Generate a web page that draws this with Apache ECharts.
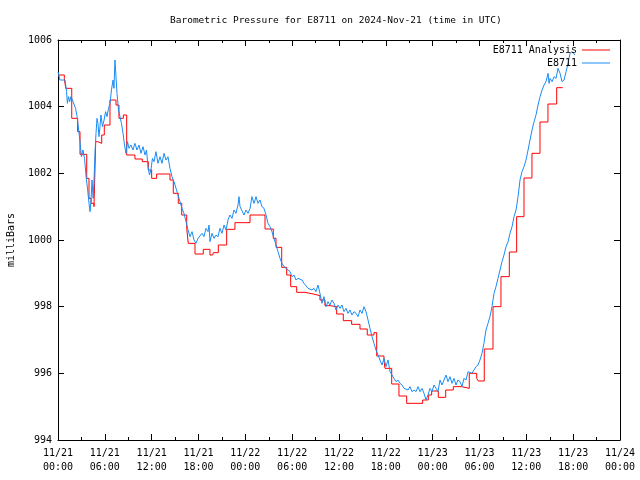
<!DOCTYPE html>
<html><head><meta charset="utf-8">
<script src="https://cdn.jsdelivr.net/npm/echarts@6/dist/echarts.min.js"></script>
<style>html,body{margin:0;padding:0;background:#fff}#c{width:640px;height:480px}</style>
</head><body><div id="c"></div>
<script>
const titleText = 'Barometric Pressure for E8711 on 2024-Nov-21 (time in UTC)';
const tickLabels = ['11/21\n00:00','11/21\n06:00','11/21\n12:00','11/21\n18:00','11/22\n00:00','11/22\n06:00','11/22\n12:00','11/22\n18:00','11/23\n00:00','11/23\n06:00','11/23\n12:00','11/23\n18:00','11/24\n00:00'];

// hours since 11/21 00:00 UTC
const redTimes = [0,0.81,0.99,1.76,2.52,2.82,3.68,3.97,4.23,4.61,4.83,5.09,5.6,5.93,6.66,7.43,7.81,8.37,8.8,9.86,10.8,11.57,12.0,12.64,14.35,14.77,15.41,15.85,16.49,16.69,17.55,18.61,19.47,19.82,19.9,20.54,21.61,22.67,24.6,26.52,27.58,27.93,28.66,29.3,29.81,30.58,31.64,32.71,33.56,34.2,34.85,35.7,36.55,37.62,38.69,39.62,40.48,40.83,41.76,41.89,42.75,43.68,44.67,46.72,47.44,47.87,48.72,49.67,50.64,51.72,52.69,53.64,53.84,54.61,55.73,56.75,57.82,58.76,59.7,60.72,61.75,62.77,63.89,64.66];
const redValues = [1004.95,1004.85,1004.55,1003.65,1003.25,1002.57,1001.85,1001.25,1001.1,1001.0,1002.95,1002.9,1003.15,1003.45,1004.2,1004.05,1003.65,1003.75,1002.55,1002.43,1002.35,1002.1,1001.85,1001.98,1001.8,1001.4,1001.1,1000.75,1000.35,999.9,999.58,999.72,999.55,999.5,999.62,999.85,1000.32,1000.52,1000.75,1000.33,1000.05,999.78,999.18,998.95,998.6,998.43,998.38,998.33,998.2,998.03,998.0,997.78,997.58,997.47,997.33,997.15,997.22,996.52,996.4,996.15,995.68,995.32,995.1,995.2,995.35,995.47,995.28,995.5,995.6,995.55,996.0,995.85,995.77,996.73,998.0,998.9,999.64,1000.7,1001.86,1002.6,1003.54,1004.08,1004.57,1004.57];

const blueTimes = [0,0.13,0.25,0.9,1.1,1.2,1.35,1.5,1.65,1.85,2.05,2.25,2.45,2.65,2.82,3.0,3.2,3.4,3.6,3.8,3.97,4.1,4.23,4.36,4.5,4.6,4.74,4.87,5.0,5.12,5.25,5.38,5.5,5.7,5.9,6.1,6.28,6.47,6.66,6.85,7.05,7.17,7.3,7.43,7.56,7.75,7.94,8.13,8.33,8.52,8.71,8.9,9.1,9.35,9.6,9.86,10.12,10.38,10.63,10.89,11.15,11.34,11.53,11.72,11.91,12.1,12.3,12.55,12.81,13.07,13.32,13.58,13.84,14.09,14.35,14.6,14.86,15.12,15.37,15.63,15.89,16.14,16.4,16.66,16.91,17.17,17.42,17.68,17.94,18.19,18.45,18.7,18.96,19.22,19.35,19.47,19.73,19.99,20.24,20.5,20.75,21.01,21.27,21.52,21.78,22.03,22.29,22.55,22.8,23.06,23.19,23.32,23.57,23.83,24.08,24.34,24.6,24.85,25.11,25.37,25.62,25.88,26.13,26.39,26.65,26.9,27.16,27.41,27.67,27.93,28.19,28.44,28.7,28.96,29.21,29.47,29.73,29.98,30.24,30.49,30.75,31.0,31.26,31.52,31.77,32.03,32.28,32.54,32.8,33.05,33.31,33.56,33.82,34.07,34.33,34.59,34.84,35.1,35.36,35.61,35.87,36.13,36.38,36.64,36.9,37.15,37.41,37.66,37.92,38.18,38.43,38.69,38.95,39.2,39.46,39.72,39.97,40.23,40.48,40.74,41.0,41.25,41.51,41.77,42.02,42.28,42.54,42.79,43.05,43.3,43.56,43.81,44.07,44.33,44.58,44.84,45.1,45.35,45.61,45.87,46.12,46.38,46.63,46.89,47.14,47.4,47.66,47.91,48.17,48.43,48.68,48.94,49.19,49.45,49.71,49.96,50.22,50.48,50.73,50.99,51.24,51.5,51.76,52.01,52.27,52.53,52.78,53.04,53.29,53.55,53.81,54.06,54.32,54.57,54.83,55.09,55.34,55.6,55.86,56.11,56.37,56.63,56.88,57.14,57.4,57.66,57.91,58.17,58.42,58.68,58.94,59.19,59.45,59.7,59.96,60.22,60.47,60.73,60.99,61.24,61.5,61.76,62.01,62.27,62.52,62.78,62.91,63.04,63.3,63.55,63.81,64.06,64.32,64.57,64.83,65.09,65.34,65.6,65.86,66.24];
const blueValues = [1005.05,1005.1,1004.8,1004.8,1004.45,1004.1,1004.3,1004.15,1004.3,1004.2,1004.25,1003.95,1003.7,1003.3,1002.95,1002.5,1002.7,1002.45,1001.9,1001.5,1001.1,1000.85,1001.2,1001.8,1001.25,1001.7,1002.6,1003.2,1003.65,1003.5,1003.1,1003.4,1003.75,1003.4,1003.6,1003.85,1003.7,1003.95,1004.1,1004.5,1004.8,1004.55,1005.4,1004.9,1004.4,1003.9,1003.7,1003.5,1003.2,1002.85,1002.6,1002.95,1002.75,1002.85,1002.7,1002.9,1002.7,1002.85,1002.6,1002.8,1002.55,1002.7,1002.2,1001.95,1002.1,1002.45,1002.35,1002.65,1002.3,1002.5,1002.3,1002.6,1002.4,1002.5,1002.15,1001.9,1001.75,1001.55,1001.35,1001.15,1000.95,1000.8,1000.55,1000.3,1000.1,1000.25,1000.0,999.9,1000.05,1000.1,1000.2,1000.1,1000.35,1000.25,1000.45,999.95,1000.2,1000.05,1000.15,1000.1,1000.35,1000.2,1000.45,1000.3,1000.6,1000.75,1000.65,1000.9,1000.8,1001.05,1001.3,1001.0,1001.05,1000.75,1000.9,1000.8,1000.95,1001.3,1001.1,1001.3,1001.1,1001.2,1001.0,1000.95,1000.75,1000.5,1000.4,1000.25,1000.05,999.85,999.65,999.45,999.3,999.2,999.25,999.1,999.05,998.9,998.95,998.8,998.85,998.9,998.8,998.7,998.65,998.55,998.6,998.5,998.55,998.45,998.65,998.4,998.1,998.3,998.0,998.15,998.05,998.2,998.1,997.9,998.05,997.95,998.05,997.85,997.95,997.8,997.9,997.75,997.85,997.8,997.7,997.9,997.8,998.0,997.85,997.6,997.35,997.1,996.9,996.7,996.55,996.4,996.25,996.45,996.2,996.4,996.05,995.95,995.85,995.75,995.8,995.7,995.65,995.55,995.6,995.5,995.6,995.45,995.5,995.45,995.6,995.45,995.55,995.4,995.2,995.35,995.55,995.45,995.65,995.55,995.45,995.8,995.65,995.8,995.95,995.75,995.9,995.7,995.85,995.65,995.8,995.75,995.6,995.85,995.8,996.05,996.1,996.0,996.1,996.2,996.25,996.4,996.6,996.9,997.3,997.5,997.7,998.0,998.4,998.6,998.85,999.1,999.35,999.55,999.8,999.95,1000.2,1000.4,1000.7,1000.9,1001.3,1001.8,1002.05,1002.2,1002.4,1002.7,1003.0,1003.3,1003.55,1003.75,1004.05,1004.3,1004.5,1004.65,1004.75,1005.0,1004.7,1004.85,1004.75,1004.9,1004.85,1005.15,1005.0,1004.75,1004.8,1005.05,1005.3,1005.6,1005.65,1005.55];

const FONT = 'DejaVu Sans Mono';
const redData = redTimes.map((t, i) => [t, redValues[i]]);
const blueData = blueTimes.map((t, i) => [t, blueValues[i]]);

function xAx(pos, showLabel) {
  return {
    type: 'value', position: pos, min: 0, max: 72, interval: 6,
    axisLine: { show: true, onZero: false, lineStyle: { color: '#000', width: 1 } },
    axisTick: { show: true, inside: true, length: 6, lineStyle: { color: '#000' } },
    minorTick: { show: true, splitNumber: 2, length: 3, lineStyle: { color: '#000' } },
    splitLine: { show: false },
    axisLabel: {
      show: showLabel, margin: 6, color: '#000', fontFamily: FONT, fontSize: 10, lineHeight: 14,
      formatter: v => tickLabels[Math.round(v / 6)]
    }
  };
}
function yAx(pos, showLabel) {
  return {
    type: 'value', position: pos, min: 994, max: 1006, interval: 2,
    name: showLabel ? 'milliBars' : '', nameLocation: 'middle', nameGap: 42,
    nameTextStyle: { color: '#000', fontFamily: FONT, fontSize: 10 },
    axisLine: { show: true, onZero: false, lineStyle: { color: '#000', width: 1 } },
    axisTick: { show: true, inside: true, length: 6, lineStyle: { color: '#000' } },
    splitLine: { show: false },
    axisLabel: { show: showLabel, margin: 6, color: '#000', fontFamily: FONT, fontSize: 10,
      formatter: v => String(v) }
  };
}

const chart = echarts.init(document.getElementById('c'), null, { renderer: 'canvas' });
chart.setOption({
  animation: false,
  backgroundColor: '#fff',
  title: {
    text: titleText, left: 165, top: 11,
    textStyle: { color: '#000', fontFamily: FONT, fontSize: 9.5, fontWeight: 'normal' }
  },
  grid: { left: 58, right: 20, top: 40, bottom: 40, containLabel: false, outerBoundsMode: 'none' },
  legend: [
    { data: ['E8711 Analysis'], right: 25, top: 40, align: 'right', icon: 'rect', itemWidth: 28, itemHeight: 1, itemGap: 0,
      textStyle: { color: '#000', fontFamily: FONT, fontSize: 10 } },
    { data: ['E8711'], right: 25, top: 53, align: 'right', icon: 'rect', itemWidth: 28, itemHeight: 1, itemGap: 0,
      textStyle: { color: '#000', fontFamily: FONT, fontSize: 10 } }
  ],
  xAxis: [xAx('bottom', true), xAx('top', false)],
  yAxis: [yAx('left', true), yAx('right', false)],
  series: [
    { name: 'E8711 Analysis', type: 'line', step: 'end', data: redData, xAxisIndex: 0, yAxisIndex: 0,
      showSymbol: false, symbol: 'none', color: '#ff0000', lineStyle: { color: '#ff0000', width: 1 } },
    { name: 'E8711', type: 'line', data: blueData, xAxisIndex: 0, yAxisIndex: 0,
      showSymbol: false, symbol: 'none', color: '#1a8cf5', lineStyle: { color: '#1a8cf5', width: 1 } }
  ]
});
</script>
</body></html>
